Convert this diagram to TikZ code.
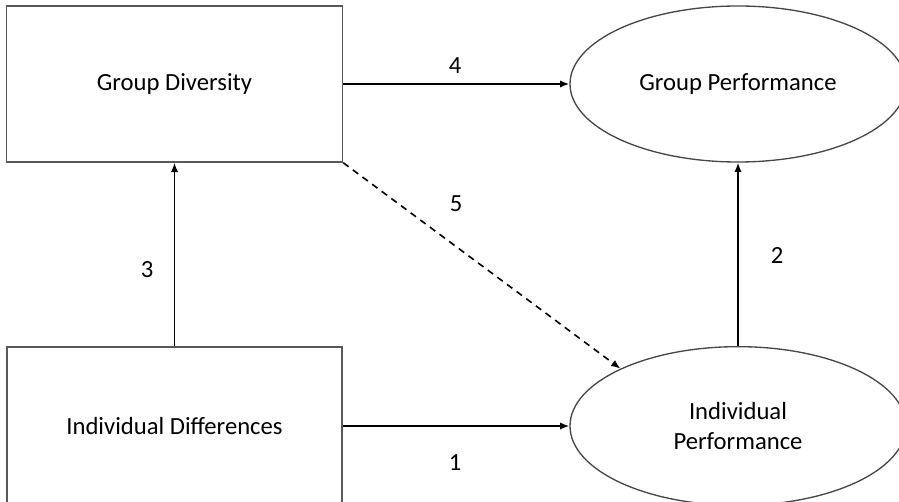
\documentclass[tikz,border=0pt]{standalone}
\usepackage{fontspec}
\setmainfont{Carlito}
\usetikzlibrary{shapes.geometric,arrows.meta}
\begin{document}
\begin{tikzpicture}[x=0.75pt,y=0.75pt,yscale=-1,xscale=1,
  varbox/.style={draw=black!65,line width=1.1pt,rectangle,align=center,font=\fontsize{18.5}{23}\selectfont},
  varoval/.style={draw=black!72,line width=1pt,ellipse,align=center,inner sep=0pt,font=\fontsize{18.5}{23}\selectfont},
  link/.style={line width=1.2pt,-{Latex[length=7pt,width=5.5pt]}},
  pathnum/.style={font=\fontsize{18.5}{23}\selectfont,inner sep=0.75pt}]
\clip (0,0) rectangle (899,502);
% variables
\node[varbox,minimum width=252pt,minimum height=117pt] (gd) at (174.5,84) {Group Diversity};
\node[varbox,minimum width=251.25pt,minimum height=118.5pt] (idiff) at (174.5,426) {Individual Differences};
\node[varoval,minimum width=252pt,minimum height=117pt] (gp) at (738,84) {Group Performance};
\node[varoval,minimum width=252pt,minimum height=119pt] (ip) at (738,426) {Individual\\Performance};
% paths
\draw[link] (idiff.east) -- (ip.west);
\draw[link] (ip.north) -- (gp.south);
\draw[link] (idiff.north) -- (gd.south);
\draw[link] (gd.east) -- (gp.west);
\draw[link,dashed,dash pattern=on 5pt off 4pt] (gd.south east) -- (ip.154);
% path numbers
\node[pathnum] (n1) at (455,463) {1};
\node[pathnum] (n2) at (777,255) {2};
\node[pathnum] (n3) at (147,270) {3};
\node[pathnum] (n4) at (455,66) {4};
\node[pathnum] (n5) at (456,204) {5};
\end{tikzpicture}
\end{document}
